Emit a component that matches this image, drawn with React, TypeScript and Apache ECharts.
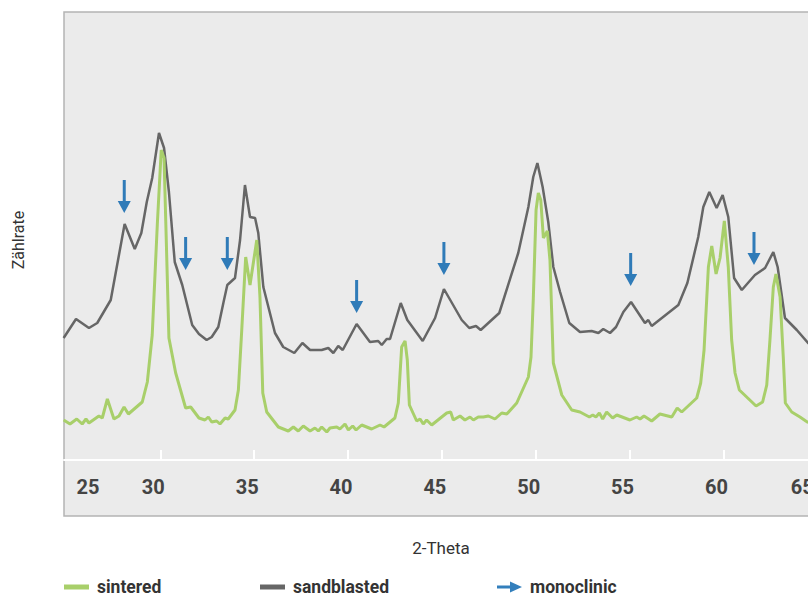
import React, { useEffect, useRef } from "react";
import * as echarts from "echarts";

// X-ray diffraction patterns: 2-Theta (degrees) vs. count rate (arbitrary units)
const SANDBLASTED: [number, number][] = [
  [24.85, 122], [25.51, 141], [26.2, 132], [26.64, 137], [27.36, 160], [28.1, 236],
  [28.64, 211], [28.99, 227], [29.28, 258], [29.57, 282], [29.93, 327], [30.2, 312],
  [30.46, 268], [30.77, 198], [31.17, 175], [31.7, 135], [32.06, 126], [32.47, 120],
  [32.74, 123], [33.09, 133], [33.36, 157], [33.57, 175], [33.98, 182], [34.25, 220],
  [34.51, 275], [34.78, 243], [35.05, 242], [35.22, 227], [35.49, 173], [36.11, 127],
  [36.55, 113], [37.14, 107], [37.57, 117], [37.98, 110], [38.6, 110], [38.95, 112],
  [39.22, 107], [39.48, 114], [39.72, 110], [40.46, 136], [41.17, 118], [41.61, 119],
  [41.8, 115], [42.06, 121], [42.24, 121], [42.81, 157], [43.16, 140], [43.98, 119],
  [44.64, 142], [45.11, 171], [46.06, 140], [46.46, 132], [46.82, 134], [47.07, 130],
  [48.06, 147], [49.07, 207], [49.61, 253], [49.87, 283], [50.09, 297], [50.37, 273],
  [50.67, 238], [50.94, 193], [51.3, 168], [51.79, 137], [52.36, 128], [52.98, 129],
  [53.34, 127], [53.6, 131], [53.96, 127], [54.28, 133], [54.67, 148], [55.08, 158],
  [55.82, 137], [56.0, 140], [56.18, 134], [57.6, 155], [58.08, 177], [58.66, 223],
  [58.93, 253], [59.25, 268], [59.64, 252], [59.96, 265], [60.26, 243], [60.57, 182],
  [60.98, 170], [61.68, 185], [62.22, 192], [62.66, 208], [62.89, 193], [63.28, 142],
  [63.91, 130], [64.51, 117], [65.0, 110],
];

const SINTERED: [number, number][] = [
  [24.85, 40], [25.19, 36], [25.55, 41], [25.84, 36], [26.04, 41], [26.2, 37],
  [26.73, 44], [26.91, 42], [27.18, 61], [27.53, 41], [27.8, 44], [28.07, 53],
  [28.3, 46], [29.04, 58], [29.31, 78], [29.57, 125], [29.84, 235], [30.05, 310],
  [30.2, 302], [30.46, 122], [30.82, 87], [31.35, 52], [31.62, 53], [32.06, 42],
  [32.38, 40], [32.56, 43], [32.74, 38], [33.0, 39], [33.18, 36], [33.45, 42],
  [33.62, 41], [33.98, 50], [34.16, 70], [34.34, 130], [34.55, 203], [34.78, 175],
  [35.14, 220], [35.31, 163], [35.46, 67], [35.67, 48], [36.29, 33], [36.82, 29],
  [37.09, 33], [37.35, 29], [37.62, 34], [37.98, 29], [38.24, 32], [38.42, 29],
  [38.6, 33], [38.87, 28], [39.04, 32], [39.4, 33], [39.57, 31], [39.84, 36],
  [40.02, 30], [40.25, 34], [40.43, 30], [40.73, 35], [41.26, 31], [41.71, 35],
  [41.92, 33], [42.5, 42], [42.68, 57], [42.86, 113], [43.04, 119], [43.16, 100],
  [43.27, 55], [43.66, 39], [43.84, 41], [44.01, 36], [44.19, 40], [44.46, 35],
  [45.26, 47], [45.47, 48], [45.61, 40], [45.97, 44], [46.23, 40], [46.5, 43],
  [46.68, 40], [46.94, 43], [47.21, 43], [47.48, 44], [47.83, 41], [48.19, 47],
  [48.46, 46], [48.99, 57], [49.61, 83], [49.75, 103], [49.87, 160], [50.02, 250],
  [50.14, 267], [50.27, 260], [50.41, 222], [50.62, 229], [50.76, 200], [50.94, 97],
  [51.39, 65], [51.92, 50], [52.36, 48], [52.86, 43], [53.04, 45], [53.21, 43],
  [53.39, 47], [53.57, 41], [53.78, 48], [54.1, 42], [54.32, 45], [55.02, 40],
  [55.38, 43], [55.56, 41], [55.77, 44], [56.18, 39], [56.62, 46], [57.25, 43],
  [57.54, 52], [57.78, 48], [58.58, 62], [58.79, 77], [58.97, 110], [59.2, 193],
  [59.38, 214], [59.61, 186], [59.82, 202], [60.05, 239], [60.26, 193], [60.44, 120],
  [60.62, 87], [60.85, 70], [61.74, 54], [62.09, 58], [62.31, 75], [62.48, 120],
  [62.66, 173], [62.8, 186], [63.02, 163], [63.19, 103], [63.3, 57], [63.64, 48],
  [64.08, 43], [64.47, 38], [65.0, 36],
];

// Monoclinic reflections: [2-Theta, height of the arrow tip]
const MONOCLINIC: [number, number][] = [
  [28.08, 247], [31.35, 190], [33.57, 190], [40.46, 147], [45.11, 185], [55.06, 174], [61.63, 195],
];

const X_TICKS = [30, 35, 40, 45, 50, 55, 60, 65];
const X_LABELS = [25, 30, 35, 40, 45, 50, 55, 60, 65];

const X_MIN = 24.87;
const X_MAX = 65.04;
const Y_MIN = -56;
const Y_MAX = 448;

const FONT = "Roboto, 'Liberation Sans', sans-serif";
const GREEN = "#a8cf6a";
const GRAY = "#666666";
const BLUE = "#005fab";

const ARROW_DOWN = "path://M5,0 L8,0 L8,21 L13,21 L6.5,33 L0,21 L5,21 Z";
const ARROW_RIGHT = "path://M0,4 L13,4 L13,0 L25,5.5 L13,11 L13,7 L0,7 Z";

export default function App() {
  const ref = useRef<HTMLDivElement>(null);

  useEffect(() => {
    if (!ref.current) return;
    const chart = echarts.init(ref.current, undefined, { renderer: "svg" });

    const labelText = {
      fontFamily: FONT,
      fontSize: 20,
      fontWeight: "bold" as const,
      color: "#444",
    };
    const legendText = {
      fontFamily: FONT,
      fontSize: 17.5,
      fontWeight: "bold" as const,
      color: "#333",
      padding: [0, 0, 0, 3],
    };

    const firstLabel = X_LABELS[0];
    const lastLabel = X_LABELS[X_LABELS.length - 1];

    chart.setOption({
      animation: false,
      backgroundColor: "#ffffff",
      grid: {
        left: 64,
        top: 12,
        right: -10,
        bottom: 78,
        outerBoundsMode: "none",
        containLabel: false,
        show: true,
        backgroundColor: "#ebebeb",
        borderColor: "#b4b4b4",
        borderWidth: 1.5,
      },
      xAxis: {
        type: "value",
        min: X_MIN,
        max: X_MAX,
        name: "2-Theta",
        nameLocation: "middle",
        nameGap: 23,
        nameTextStyle: { fontFamily: FONT, fontSize: 17, color: "#333" },
        axisLine: { show: true, onZero: true, lineStyle: { color: "#ffffff", width: 2 } },
        axisTick: {
          show: true,
          inside: true,
          length: 10,
          customValues: X_TICKS,
          lineStyle: { color: "#ffffff", width: 2 },
        },
        axisLabel: {
          customValues: X_LABELS,
          margin: -39,
          ...labelText,
          formatter: (v: number) =>
            v === firstLabel ? `{first|${v}}` : v === lastLabel ? `{last|${v}}` : `{tick|${v}}`,
          rich: {
            first: { ...labelText, padding: [0, 0, 0, 43] },
            tick: { ...labelText, padding: [0, 14, 0, 0] },
            last: { ...labelText, padding: [0, 30, 0, 0] },
          },
        },
        splitLine: { show: false },
      },
      yAxis: {
        type: "value",
        min: Y_MIN,
        max: Y_MAX,
        show: false,
        splitLine: { show: false },
      },
      legend: [
        {
          data: ["sintered"],
          left: 64,
          top: 578,
          padding: 0,
          icon: "rect",
          itemWidth: 25,
          itemHeight: 5,
          selectedMode: false,
          textStyle: legendText,
        },
        {
          data: ["sandblasted"],
          left: 260,
          top: 578,
          padding: 0,
          icon: "rect",
          itemWidth: 25,
          itemHeight: 5,
          selectedMode: false,
          textStyle: legendText,
        },
        {
          data: [{ name: "monoclinic", icon: ARROW_RIGHT }],
          left: 497,
          top: 578,
          padding: 0,
          itemWidth: 25,
          itemHeight: 11,
          selectedMode: false,
          textStyle: legendText,
        },
      ],
      graphic: [
        {
          type: "text",
          x: 18,
          y: 240,
          rotation: Math.PI / 2,
          style: {
            text: "Zählrate",
            fontFamily: FONT,
            fontSize: 16,
            fill: "#333",
            align: "center",
            verticalAlign: "middle",
          },
        },
      ],
      series: [
        {
          type: "line",
          name: "sandblasted",
          data: SANDBLASTED,
          showSymbol: false,
          symbol: "none",
          lineStyle: { color: GRAY, width: 2.5 },
          itemStyle: { color: GRAY },
          z: 2,
        },
        {
          type: "line",
          name: "sintered",
          data: SINTERED,
          showSymbol: false,
          symbol: "none",
          lineStyle: { color: GREEN, width: 3 },
          itemStyle: { color: GREEN },
          z: 3,
        },
        {
          type: "scatter",
          name: "monoclinic",
          data: MONOCLINIC,
          symbol: ARROW_DOWN,
          symbolSize: [13, 33],
          symbolOffset: [0, "-50%"],
          itemStyle: { color: BLUE },
          z: 5,
        },
      ],
    });

    return () => chart.dispose();
  }, []);

  return (
    <div
      ref={ref}
      style={{ position: "absolute", left: 0, top: 0, width: 808, height: 594 }}
    />
  );
}
